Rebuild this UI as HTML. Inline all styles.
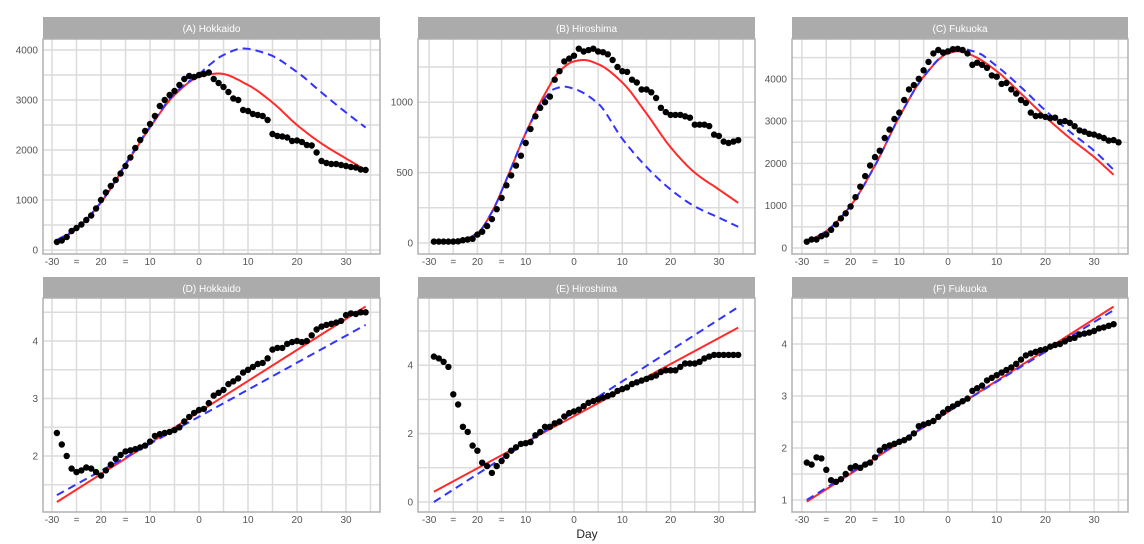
<!DOCTYPE html>
<html><head><meta charset="utf-8"><style>
html,body{margin:0;padding:0;background:#fff;}
svg{display:block;font-family:"Liberation Sans",sans-serif;}
</style></head><body>
<svg id="s" width="1144" height="544" xmlns="http://www.w3.org/2000/svg"></svg>
<script>
const S=document.getElementById('s');let h='';
function interp(P){const n=P.length;if(n==2)return P;
 const d=[],m=[];for(let i=0;i<n-1;i++)d.push((P[i+1][1]-P[i][1])/(P[i+1][0]-P[i][0]));
 m[0]=d[0];m[n-1]=d[n-2];
 for(let i=1;i<n-1;i++){if(d[i-1]*d[i]<=0)m[i]=0;else{const h0=P[i][0]-P[i-1][0],h1=P[i+1][0]-P[i][0];const w1=2*h1+h0,w2=h1+2*h0;m[i]=(w1+w2)/(w1/d[i-1]+w2/d[i]);}}
 const out=[];
 for(let i=0;i<n-1;i++){const x0=P[i][0],x1=P[i+1][0],y0=P[i][1],y1=P[i+1][1],hh=x1-x0;
  for(let s=0;s<20;s++){const t=s/20,t2=t*t,t3=t2*t;
   out.push([x0+t*hh,(2*t3-3*t2+1)*y0+(t3-2*t2+t)*hh*m[i]+(-2*t3+3*t2)*y1+(t3-t2)*hh*m[i+1]]);}}
 out.push(P[n-1]);return out;}
function panel(o){
 const X=t=>o.x0+o.k*t, Y=v=>o.yb-(v-o.v0)*o.ky;
 h+=`<rect x="${o.bx}" y="${o.sy}" width="${o.bw}" height="${o.top-o.sy}" fill="#ababab"/>`;
 h+=`<text x="${o.bx+o.bw/2}" y="${o.sy+15}" fill="#fff" font-size="10" text-anchor="middle">${o.title}</text>`;
 for(let t=-30;t<=35;t+=5){const x=X(t);if(x<o.bx||x>o.bx+o.bw)continue;h+=`<line x1="${x}" y1="${o.top}" x2="${x}" y2="${o.bot}" stroke="#dcdcdc" stroke-width="1.5"/>`;}
 for(const v of o.hg){const y=Y(v);if(y<o.top||y>o.bot)continue;h+=`<line x1="${o.bx}" y1="${y}" x2="${o.bx+o.bw}" y2="${y}" stroke="#dcdcdc" stroke-width="1.5"/>`;}
 h+=`<rect x="${o.bx}" y="${o.top}" width="${o.bw}" height="${o.bot-o.top}" fill="none" stroke="#b0b0b0" stroke-width="1.5"/>`;
 for(const v of o.yl){h+=`<text x="${o.bx-5}" y="${Y(v)+3.5}" fill="#555" font-size="10" text-anchor="end">${v}</text>`;}
 const xl=[[-30,'-30'],[-25,'='],[-20,'20'],[-15,'='],[-10,'10'],[0,'0'],[10,'10'],[20,'20'],[30,'30']];
 for(const [t,s] of xl){h+=`<text x="${X(t)}" y="${o.bot+11}" fill="#555" font-size="10" text-anchor="middle">${s}</text>`;}
 const path=P=>'M'+interp(P).map(p=>X(p[0]).toFixed(1)+','+Y(p[1]).toFixed(1)).join(' L');
 h+=`<path d="${path(o.red)}" fill="none" stroke="#ff2b2b" stroke-width="2"/>`;
 h+=`<path d="${path(o.blue)}" fill="none" stroke="#3333ff" stroke-width="2" stroke-dasharray="8,5"/>`;
 o.pts.forEach((v,i)=>{h+=`<circle cx="${X(-29+i).toFixed(1)}" cy="${Y(v).toFixed(1)}" r="3.2" fill="#000"/>`;});
}
const rng=(a,b,s)=>{const r=[];for(let v=a;v<=b+1e-9;v+=s)r.push(+v.toFixed(2));return r;};
panel({title:'(A) Hokkaido',bx:43,bw:337,sy:17,top:39,bot:254,x0:199,k:4.9,yb:250,v0:0,ky:0.05,hg:rng(0,4500,500),yl:[0,1000,2000,3000,4000],
red:[[-29,170],[-25,420],[-20,950],[-15,1700],[-10,2450],[-5,3100],[0,3460],[4,3530],[10,3300],[15,2950],[20,2500],[25,2130],[30,1830],[34,1600]],
blue:[[-29,200],[-25,430],[-20,960],[-15,1720],[-10,2470],[-5,3130],[0,3520],[5,3900],[9,4030],[14,3920],[20,3560],[25,3150],[30,2750],[34,2450]],
pts:[160,190,260,380,440,510,600,690,830,1000,1150,1280,1400,1530,1680,1850,2040,2200,2380,2520,2680,2880,3000,3100,3180,3300,3420,3480,3460,3500,3520,3550,3420,3340,3260,3160,3030,3000,2800,2780,2720,2700,2680,2600,2320,2280,2270,2250,2180,2190,2160,2100,2090,1950,1780,1740,1720,1720,1700,1680,1660,1650,1610,1600]});
panel({title:'(B) Hiroshima',bx:418,bw:337,sy:17,top:39,bot:254,x0:574,k:4.83,yb:243,v0:0,ky:0.1408,hg:rng(0,1500,250),yl:[0,500,1000],
red:[[-29,5],[-24,15],[-20,70],[-17,220],[-14,450],[-10,780],[-6,1060],[-3,1220],[0,1290],[2,1300],[5,1270],[10,1140],[15,920],[20,680],[25,500],[30,380],[34,285]],
blue:[[-29,5],[-24,15],[-20,70],[-17,220],[-14,450],[-10,780],[-6,1030],[-4,1095],[-2,1110],[0,1095],[5,990],[10,740],[15,540],[20,380],[25,260],[30,180],[34,115]],
pts:[10,10,10,10,10,12,20,25,30,60,80,120,170,240,320,410,480,550,620,710,810,900,960,1000,1040,1160,1220,1290,1310,1330,1380,1360,1370,1380,1360,1355,1340,1300,1250,1220,1215,1160,1140,1090,1090,1070,1030,960,930,910,910,910,900,890,840,840,840,830,770,760,720,710,720,730]});
panel({title:'(C) Fukuoka',bx:792,bw:336,sy:17,top:39,bot:254,x0:948,k:4.87,yb:248,v0:0,ky:0.0423,hg:rng(0,5000,500),yl:[0,1000,2000,3000,4000],
red:[[-29,150],[-25,400],[-20,1000],[-15,1950],[-10,3100],[-5,4050],[0,4600],[2,4650],[5,4550],[10,4180],[15,3650],[20,3100],[25,2600],[30,2150],[34,1730]],
blue:[[-29,150],[-25,400],[-20,1000],[-15,1950],[-10,3100],[-5,4050],[0,4620],[3,4700],[6,4620],[10,4300],[15,3800],[20,3250],[25,2750],[30,2300],[34,1850]],
pts:[150,200,200,280,320,430,560,700,820,980,1200,1450,1700,1950,2150,2300,2600,2800,3050,3200,3500,3750,3850,4000,4200,4400,4600,4680,4620,4650,4700,4710,4680,4600,4330,4380,4330,4260,4080,4050,3880,3900,3750,3650,3500,3430,3200,3120,3130,3100,3070,3080,2980,3000,2960,2880,2780,2750,2700,2680,2640,2600,2540,2550,2500]});
panel({title:'(D) Hokkaido',bx:43,bw:337,sy:277,top:298,bot:512,x0:199,k:4.9,yb:456,v0:2,ky:57.5,hg:rng(1.5,5,0.5),yl:[2,3,4],
red:[[-29,1.2],[34,4.6]],blue:[[-29,1.32],[34,4.28]],
pts:[2.4,2.2,2.0,1.78,1.72,1.75,1.8,1.78,1.72,1.66,1.75,1.85,1.95,2.02,2.08,2.1,2.12,2.15,2.18,2.25,2.35,2.38,2.4,2.42,2.45,2.5,2.6,2.68,2.75,2.8,2.82,2.92,3.05,3.1,3.15,3.25,3.3,3.35,3.45,3.5,3.55,3.6,3.62,3.7,3.85,3.88,3.88,3.95,3.98,4.0,3.98,4.0,4.1,4.2,4.25,4.28,4.3,4.32,4.35,4.45,4.48,4.47,4.5,4.5]});
panel({title:'(E) Hiroshima',bx:418,bw:337,sy:277,top:298,bot:512,x0:574,k:4.83,yb:502,v0:0,ky:34.2,hg:rng(0,6,1),yl:[0,2,4],
red:[[-29,0.3],[34,5.1]],blue:[[-29,0.0],[34,5.7]],
pts:[4.25,4.2,4.1,3.95,3.15,2.85,2.2,2.05,1.65,1.5,1.15,1.05,0.85,1.05,1.2,1.35,1.5,1.6,1.7,1.72,1.75,1.95,2.05,2.2,2.2,2.3,2.35,2.5,2.6,2.65,2.7,2.8,2.9,2.95,3.0,3.05,3.1,3.15,3.25,3.3,3.35,3.45,3.5,3.55,3.6,3.65,3.7,3.8,3.85,3.85,3.85,3.95,4.05,4.05,4.05,4.1,4.2,4.25,4.3,4.3,4.3,4.3,4.3,4.3]});
panel({title:'(F) Fukuoka',bx:792,bw:336,sy:277,top:298,bot:512,x0:948,k:4.87,yb:500,v0:1,ky:52,hg:rng(1,5,0.5),yl:[1,2,3,4],
red:[[-29,0.97],[34,4.72]],blue:[[-29,1.0],[0,2.7],[34,4.65]],
pts:[1.72,1.68,1.82,1.8,1.58,1.38,1.35,1.4,1.5,1.62,1.65,1.62,1.68,1.72,1.82,1.95,2.02,2.05,2.08,2.12,2.15,2.2,2.28,2.42,2.45,2.48,2.52,2.6,2.68,2.75,2.8,2.85,2.9,2.95,3.1,3.15,3.2,3.3,3.35,3.4,3.45,3.5,3.55,3.62,3.7,3.78,3.82,3.85,3.88,3.9,3.95,3.98,4.0,4.05,4.1,4.12,4.18,4.2,4.22,4.25,4.3,4.32,4.35,4.38]});
h+=`<text x="587" y="538" fill="#222" font-size="12" text-anchor="middle">Day</text>`;
S.innerHTML=h;
</script>
</body></html>
